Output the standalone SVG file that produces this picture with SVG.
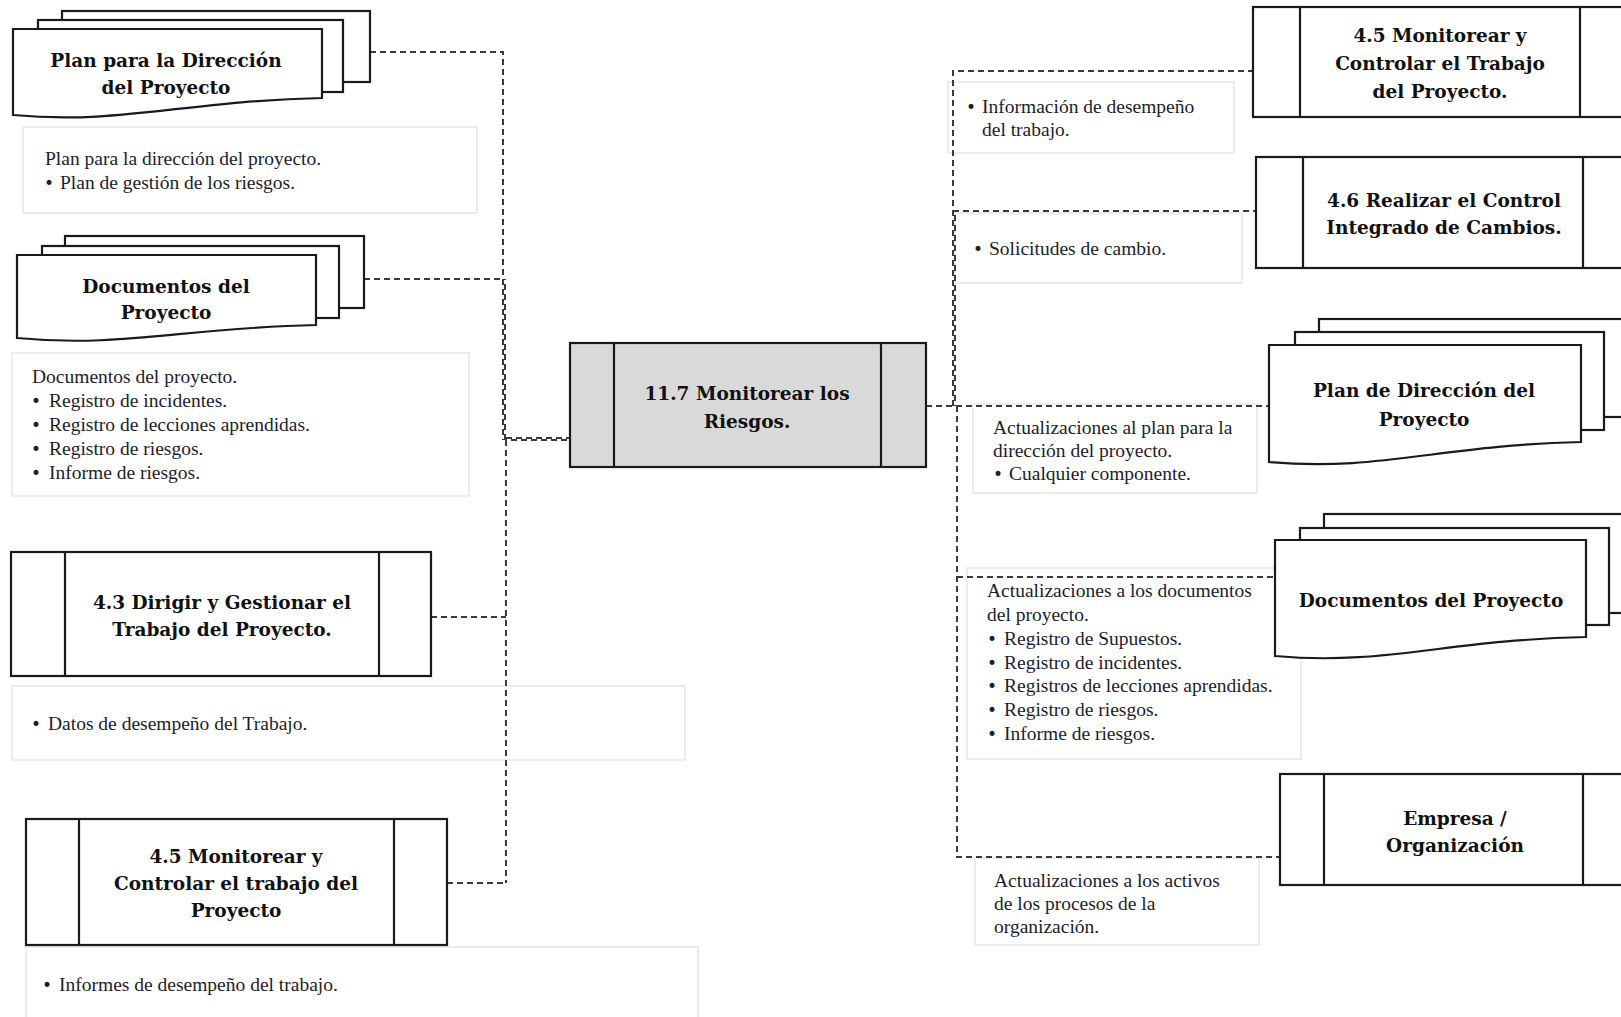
<svg xmlns="http://www.w3.org/2000/svg" width="1621" height="1017" viewBox="0 0 1621 1017">
  <style>
    .sheet { fill: #ffffff; stroke: #1a1a1a; stroke-width: 2.2; }
    .proc { fill: #ffffff; stroke: #1a1a1a; stroke-width: 2.2; }
    .core { fill: #d9d9d9; stroke: #1a1a1a; stroke-width: 2.2; }
    .bar { stroke: #1a1a1a; stroke-width: 2.2; fill: none; }
    .note { fill: #ffffff; stroke: #ececec; stroke-width: 2; }
    .link { fill: none; stroke: #3a3a3a; stroke-width: 2; stroke-dasharray: 6 4; }
    .title { font-family: "DejaVu Serif", "Liberation Serif", serif; font-weight: bold; font-size: 18.5px; fill: #111111; text-anchor: middle; }
    .body { font-family: "Liberation Serif", "Times New Roman", serif; font-size: 19.5px; fill: #1d1d2b; }
    .dot { font-family: "DejaVu Sans", sans-serif; font-size: 17px; fill: #1d1d2b; }
  </style>

  <!-- label boxes carried by the connectors -->
  <g id="labels">
    <g id="lbl-plan-in">
      <rect class="note" x="23" y="127" width="454" height="86"/>
      <text class="body" x="45" y="165">Plan para la dirección del proyecto.</text>
      <text class="dot" x="44" y="189">•</text>
      <text class="body" x="60" y="189">Plan de gestión de los riesgos.</text>
    </g>
    <g id="lbl-docs-in">
      <rect class="note" x="12" y="353" width="457" height="143"/>
      <text class="body" x="32" y="383">Documentos del proyecto.</text>
      <text class="dot" x="31" y="407">•</text><text class="body" x="49" y="407">Registro de incidentes.</text>
      <text class="dot" x="31" y="431">•</text><text class="body" x="49" y="431">Registro de lecciones aprendidas.</text>
      <text class="dot" x="31" y="455">•</text><text class="body" x="49" y="455">Registro de riesgos.</text>
      <text class="dot" x="31" y="479">•</text><text class="body" x="49" y="479">Informe de riesgos.</text>
    </g>
    <g id="lbl-datos">
      <rect class="note" x="12" y="686" width="673" height="74"/>
      <text class="dot" x="31" y="730">•</text>
      <text class="body" x="48" y="730">Datos de desempeño del Trabajo.</text>
    </g>
    <g id="lbl-informes">
      <rect class="note" x="26" y="947" width="672" height="90"/>
      <text class="dot" x="42" y="991">•</text>
      <text class="body" x="59" y="991">Informes de desempeño del trabajo.</text>
    </g>
    <g id="lbl-info">
      <rect class="note" x="948" y="82" width="286" height="71"/>
      <text class="dot" x="966" y="113">•</text>
      <text class="body" x="982" y="113">Información de desempeño</text>
      <text class="body" x="982" y="136">del trabajo.</text>
    </g>
    <g id="lbl-cambio">
      <rect class="note" x="955" y="213" width="287" height="70"/>
      <text class="dot" x="973" y="255">•</text>
      <text class="body" x="989" y="255">Solicitudes de cambio.</text>
    </g>
    <g id="lbl-plan-out">
      <rect class="note" x="973" y="404" width="284" height="89"/>
      <text class="body" x="993" y="434">Actualizaciones al plan para la</text>
      <text class="body" x="993" y="457">dirección del proyecto.</text>
      <text class="dot" x="993" y="480">•</text>
      <text class="body" x="1009" y="480">Cualquier componente.</text>
    </g>
    <g id="lbl-docs-out">
      <rect class="note" x="967" y="568" width="334" height="191"/>
      <text class="body" x="987" y="597">Actualizaciones a los documentos</text>
      <text class="body" x="987" y="621">del proyecto.</text>
      <text class="dot" x="987" y="645">•</text><text class="body" x="1004" y="645">Registro de Supuestos.</text>
      <text class="dot" x="987" y="669">•</text><text class="body" x="1004" y="669">Registro de incidentes.</text>
      <text class="dot" x="987" y="692">•</text><text class="body" x="1004" y="692">Registros de lecciones aprendidas.</text>
      <text class="dot" x="987" y="716">•</text><text class="body" x="1004" y="716">Registro de riesgos.</text>
      <text class="dot" x="987" y="740">•</text><text class="body" x="1004" y="740">Informe de riesgos.</text>
    </g>
    <g id="lbl-activos">
      <rect class="note" x="975" y="858" width="284" height="87"/>
      <text class="body" x="994" y="887">Actualizaciones a los activos</text>
      <text class="body" x="994" y="910">de los procesos de la</text>
      <text class="body" x="994" y="933">organización.</text>
    </g>
  </g>

  <!-- dashed connectors -->
  <g id="connectors">
    <path class="link" d="M370,52 H503 V279"/>
    <path class="link" d="M364,279 H503"/>
    <path class="link" d="M503,279 V440"/>
    <path class="link" d="M505,279 V440" stroke-dashoffset="5"/>
    <path class="link" d="M506,440 V883"/>
    <path class="link" d="M431,617 H506"/>
    <path class="link" d="M447,883 H506"/>
    <path class="link" d="M506,438 H570"/>
    <path class="link" d="M506,440 H570" stroke-dashoffset="5"/>
    <path class="link" d="M926,406 H1269"/>
    <path class="link" d="M953,406 V71 H1253"/>
    <path class="link" d="M955,406 V211" stroke-dashoffset="5"/>
    <path class="link" d="M953,211 H1256"/>
    <path class="link" d="M957,406 V857 H1280"/>
    <path class="link" d="M957,577 H1275"/>
  </g>

  <!-- inputs -->
  <g id="plan-direccion-in">
    <rect class="sheet" x="62" y="11" width="308" height="71"/>
    <rect class="sheet" x="38" y="20" width="305" height="72"/>
    <path class="sheet" d="M13,29 H322 V98 C183,101 121,125 13,115 Z"/>
    <text class="title" x="166" y="67">Plan para la Dirección</text>
    <text class="title" x="166" y="94">del Proyecto</text>
  </g>

  <g id="documentos-in">
    <rect class="sheet" x="65" y="236" width="299" height="72"/>
    <rect class="sheet" x="42" y="246" width="297" height="72"/>
    <path class="sheet" d="M17,255 H316 V325 C181,328 122,348 17,338 Z"/>
    <text class="title" x="166" y="293">Documentos del</text>
    <text class="title" x="166" y="319">Proyecto</text>
  </g>

  <g id="dirigir-gestionar">
    <rect class="proc" x="11" y="552" width="420" height="124"/>
    <path class="bar" d="M65,552 V676 M379,552 V676"/>
    <text class="title" x="222" y="609">4.3 Dirigir y Gestionar el</text>
    <text class="title" x="222" y="636">Trabajo del Proyecto.</text>
  </g>

  <g id="monitorear-controlar-in">
    <rect class="proc" x="26" y="819" width="421" height="126"/>
    <path class="bar" d="M79,819 V945 M394,819 V945"/>
    <text class="title" x="236" y="863">4.5 Monitorear y</text>
    <text class="title" x="236" y="890">Controlar el trabajo del</text>
    <text class="title" x="236" y="917">Proyecto</text>
  </g>

  <!-- central process -->
  <g id="monitorear-riesgos">
    <rect class="core" x="570" y="343" width="356" height="124"/>
    <path class="bar" d="M614,343 V467 M881,343 V467"/>
    <text class="title" x="747" y="400">11.7 Monitorear los</text>
    <text class="title" x="747" y="428">Riesgos.</text>
  </g>

  <!-- outputs -->
  <g id="monitorear-controlar-out">
    <rect class="proc" x="1253" y="7" width="380" height="110"/>
    <path class="bar" d="M1300,7 V117 M1580,7 V117"/>
    <text class="title" x="1440" y="42">4.5 Monitorear y</text>
    <text class="title" x="1440" y="70">Controlar el Trabajo</text>
    <text class="title" x="1440" y="98">del Proyecto.</text>
  </g>

  <g id="control-cambios">
    <rect class="proc" x="1256" y="157" width="377" height="111"/>
    <path class="bar" d="M1303,157 V268 M1583,157 V268"/>
    <text class="title" x="1444" y="207">4.6 Realizar el Control</text>
    <text class="title" x="1444" y="234">Integrado de Cambios.</text>
  </g>

  <g id="plan-direccion-out">
    <rect class="sheet" x="1319" y="319" width="320" height="98"/>
    <rect class="sheet" x="1295" y="332" width="309" height="98"/>
    <path class="sheet" d="M1269,345 H1581 V442 C1441,445 1378,472 1269,462 Z"/>
    <text class="title" x="1424" y="397">Plan de Dirección del</text>
    <text class="title" x="1424" y="426">Proyecto</text>
  </g>

  <g id="documentos-out">
    <rect class="sheet" x="1324" y="514" width="315" height="99"/>
    <rect class="sheet" x="1300" y="528" width="309" height="97"/>
    <path class="sheet" d="M1275,540 H1586 V637 C1446,640 1384,666 1275,656 Z"/>
    <text class="title" x="1431" y="607">Documentos del Proyecto</text>
  </g>

  <g id="empresa-organizacion">
    <rect class="proc" x="1280" y="774" width="353" height="111"/>
    <path class="bar" d="M1324,774 V885 M1583,774 V885"/>
    <text class="title" x="1455" y="825">Empresa /</text>
    <text class="title" x="1455" y="852">Organización</text>
  </g>
</svg>
